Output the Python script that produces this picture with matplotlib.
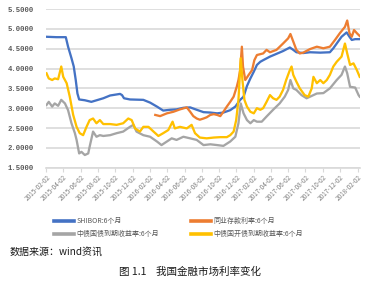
import matplotlib.pyplot as plt
import matplotlib.dates as mdates
import pandas as pd

plt.rcParams['font.family'] = ['Noto Sans CJK SC', 'DejaVu Sans']

# SHIBOR 6个月
shibor_dates = ['2015-02-02', '2015-03-09', '2015-04-11', '2015-04-19', '2015-05-01', '2015-05-09',
                '2015-05-16', '2015-05-22', '2015-05-28', '2015-06-17', '2015-07-10', '2015-08-21',
                '2015-09-14', '2015-10-19', '2015-10-26', '2015-11-02', '2015-11-23', '2016-01-09',
                '2016-02-02', '2016-02-26', '2016-03-19', '2016-04-12', '2016-05-05', '2016-05-29',
                '2016-06-22', '2016-07-15', '2016-08-08', '2016-09-01', '2016-09-25', '2016-10-17',
                '2016-11-10', '2016-11-28', '2016-12-15', '2016-12-27', '2017-01-08', '2017-01-20',
                '2017-02-01', '2017-02-12', '2017-02-24', '2017-03-06', '2017-03-30', '2017-04-22',
                '2017-05-15', '2017-06-08', '2017-06-20', '2017-07-01', '2017-07-25', '2017-08-18',
                '2017-09-23', '2017-10-27', '2017-11-08', '2017-11-20', '2017-12-07', '2017-12-25',
                '2018-01-04', '2018-01-12', '2018-01-24', '2018-02-09']
shibor = [4.80, 4.79, 4.79, 4.55, 4.26, 4.05,
          3.71, 3.37, 3.22, 3.20, 3.16, 3.25,
          3.32, 3.36, 3.33, 3.25, 3.22, 3.21,
          3.14, 3.04, 2.94, 2.96, 2.97, 3.01,
          3.02, 2.96, 2.90, 2.89, 2.87, 2.89,
          2.95, 3.04, 3.21, 3.29, 3.56, 3.75,
          3.92, 4.09, 4.17, 4.21, 4.30, 4.37,
          4.44, 4.53, 4.47, 4.41, 4.39, 4.41,
          4.40, 4.41, 4.51, 4.63, 4.80, 4.91,
          4.80, 4.72, 4.74, 4.74]

# 同业存款利率 6个月
deposit_dates = ['2016-02-20', '2016-03-08', '2016-04-01', '2016-04-24', '2016-05-17', '2016-06-10',
                 '2016-06-22', '2016-07-03', '2016-07-15', '2016-07-26', '2016-08-08', '2016-08-19',
                 '2016-09-01', '2016-09-13', '2016-09-25', '2016-10-06', '2016-10-17', '2016-10-29',
                 '2016-11-10', '2016-11-22', '2016-12-03', '2016-12-09', '2016-12-15', '2016-12-21',
                 '2016-12-25', '2017-01-02', '2017-01-14', '2017-01-26', '2017-02-03', '2017-02-12',
                 '2017-03-06', '2017-03-18', '2017-03-30', '2017-04-22', '2017-05-15', '2017-06-02',
                 '2017-06-10', '2017-06-20', '2017-07-01', '2017-07-13', '2017-07-25', '2017-08-18',
                 '2017-09-11', '2017-10-04', '2017-10-27', '2017-11-14', '2017-12-01', '2017-12-19',
                 '2017-12-27', '2018-01-04', '2018-01-12', '2018-01-20', '2018-01-30', '2018-02-09']
deposit = [2.83, 2.80, 2.87, 2.91, 2.97, 3.02,
           2.91, 2.80, 2.74, 2.71, 2.74, 2.77,
           2.83, 2.85, 2.83, 2.80, 2.91, 3.04,
           3.16, 3.29, 3.54, 3.71, 3.96, 4.55,
           4.05, 3.71, 3.84, 3.96, 4.21, 4.34,
           4.38, 4.47, 4.41, 4.47, 4.63, 4.76,
           4.87, 4.68, 4.47, 4.38, 4.40, 4.49,
           4.55, 4.51, 4.55, 4.72, 4.89, 5.05,
           5.21, 4.89, 4.80, 4.97, 4.89, 4.82]

# 中债国债到期收益率 6个月
govt_dates = ['2015-02-02', '2015-02-10', '2015-02-22', '2015-03-03', '2015-03-15', '2015-03-26',
              '2015-04-08', '2015-04-19', '2015-05-01', '2015-05-13', '2015-05-19', '2015-05-28',
              '2015-06-05', '2015-06-17', '2015-06-29', '2015-07-04', '2015-07-16', '2015-07-28',
              '2015-08-09', '2015-08-21', '2015-09-14', '2015-10-07', '2015-10-30', '2015-11-23',
              '2015-12-05', '2015-12-16', '2016-01-09', '2016-02-02', '2016-02-26', '2016-03-13',
              '2016-04-01', '2016-04-18', '2016-05-05', '2016-05-29', '2016-06-22', '2016-07-15',
              '2016-08-08', '2016-09-01', '2016-09-25', '2016-10-17', '2016-11-10', '2016-11-28',
              '2016-12-09', '2016-12-17', '2016-12-27', '2017-01-08', '2017-01-20', '2017-02-01',
              '2017-02-12', '2017-03-01', '2017-03-18', '2017-04-10', '2017-05-03', '2017-05-21',
              '2017-06-02', '2017-06-10', '2017-06-20', '2017-07-01', '2017-07-19', '2017-08-06',
              '2017-08-18', '2017-09-11', '2017-10-04', '2017-10-27', '2017-11-20', '2017-12-07',
              '2017-12-19', '2017-12-27', '2018-01-06', '2018-01-24', '2018-02-05', '2018-02-09']
govt = [3.08, 3.16, 3.04, 3.12, 3.06, 3.21,
        3.12, 2.95, 2.62, 2.37, 2.20, 1.86,
        1.90, 1.82, 1.86, 2.03, 2.41, 2.28,
        2.32, 2.30, 2.32, 2.37, 2.41, 2.53,
        2.58, 2.41, 2.32, 2.28, 2.16, 2.07,
        2.16, 2.24, 2.20, 2.28, 2.24, 2.20,
        2.07, 2.09, 2.07, 2.05, 2.16, 2.28,
        2.62, 3.12, 2.87, 2.70, 2.62, 2.70,
        2.66, 2.66, 2.79, 2.96, 3.12, 3.29,
        3.46, 3.71, 3.50, 3.46, 3.33, 3.25,
        3.29, 3.37, 3.38, 3.50, 3.71, 3.84,
        4.05, 3.88, 3.54, 3.52, 3.33, 3.29]

# 中债国开债到期收益率 6个月
cdb_dates = ['2015-02-02', '2015-02-10', '2015-02-22', '2015-03-03', '2015-03-15', '2015-03-26',
             '2015-04-02', '2015-04-14', '2015-04-25', '2015-05-07', '2015-05-19', '2015-05-30',
             '2015-06-11', '2015-06-23', '2015-07-04', '2015-07-16', '2015-07-28', '2015-08-09',
             '2015-08-21', '2015-09-14', '2015-10-07', '2015-10-30', '2015-11-17', '2015-11-29',
             '2015-12-11', '2015-12-28', '2016-01-09', '2016-01-27', '2016-02-14', '2016-03-02',
             '2016-03-19', '2016-04-06', '2016-04-21', '2016-04-29', '2016-05-17', '2016-06-10',
             '2016-06-27', '2016-07-09', '2016-07-26', '2016-08-19', '2016-09-13', '2016-10-06',
             '2016-10-29', '2016-11-10', '2016-11-22', '2016-12-01', '2016-12-09', '2016-12-17',
             '2016-12-23', '2016-12-30', '2017-01-08', '2017-01-20', '2017-02-01', '2017-02-12',
             '2017-02-24', '2017-03-06', '2017-03-18', '2017-03-30', '2017-04-10', '2017-04-22',
             '2017-05-03', '2017-05-15', '2017-05-26', '2017-06-08', '2017-06-14', '2017-06-20',
             '2017-07-01', '2017-07-13', '2017-07-30', '2017-08-12', '2017-08-24', '2017-08-30',
             '2017-09-11', '2017-09-23', '2017-10-04', '2017-10-16', '2017-10-27', '2017-11-08',
             '2017-11-20', '2017-12-07', '2017-12-19', '2017-12-27', '2018-01-06', '2018-01-18',
             '2018-01-30', '2018-02-09']
cdb = [3.88, 3.75, 3.71, 3.75, 3.73, 4.05,
       3.79, 3.63, 3.29, 2.83, 2.53, 2.37,
       2.32, 2.53, 2.70, 2.74, 2.62, 2.70,
       2.60, 2.60, 2.58, 2.62, 2.74, 2.70,
       2.49, 2.41, 2.53, 2.53, 2.41, 2.30,
       2.37, 2.45, 2.66, 2.49, 2.53, 2.49,
       2.58, 2.37, 2.26, 2.24, 2.26, 2.27,
       2.27, 2.32, 2.41, 2.70, 3.21, 4.26,
       3.71, 3.21, 3.04, 2.91, 2.87, 3.00,
       2.96, 3.00, 3.16, 3.33, 3.25, 3.21,
       3.29, 3.46, 3.71, 3.96, 4.05, 3.84,
       3.67, 3.50, 3.33, 3.29, 3.50, 3.79,
       3.63, 3.71, 3.63, 3.71, 3.84, 4.05,
       4.17, 4.30, 4.63, 4.38, 4.09, 4.13,
       3.96, 3.79]

yticks = [1.5, 2.0, 2.5, 3.0, 3.5, 4.0, 4.5, 5.0, 5.5]
labels = ['SHIBOR:6个月', '同业存款利率:6个月', '中债国债到期收益率:6个月', '中债国开债到期收益率:6个月']
colors = ['#4472C4', '#ED7D31', '#A5A5A5', '#FFC000']

fig = plt.figure(figsize=(3.82, 2.84), dpi=100)
ax = fig.add_axes([0.1217, 0.4095, 0.8207, 0.5588])

series = [(shibor_dates, shibor), (deposit_dates, deposit), (govt_dates, govt), (cdb_dates, cdb)]
lines = []
for (d, v), lab, c in zip(series, labels, colors):
    ln, = ax.plot(pd.to_datetime(d), v, color=c, lw=1.65, label=lab)
    lines.append(ln)

ax.set_xlim(pd.Timestamp('2015-02-02'), pd.Timestamp('2018-02-10'))
ax.set_ylim(1.5, 5.5)
ax.set_yticks(yticks)
ax.yaxis.set_major_formatter(plt.FormatStrFormatter('%.4f'))
ax.grid(axis='y', color='#D9D9D9', lw=1.2)
ax.set_axisbelow(True)
for s in ['top', 'right', 'left']:
    ax.spines[s].set_visible(False)
ax.spines['bottom'].set_color('#D9D9D9')
ax.spines['bottom'].set_linewidth(1.2)

ax.xaxis.set_major_locator(mdates.MonthLocator(bymonth=[2, 4, 6, 8, 10, 12], bymonthday=2))
ax.xaxis.set_major_formatter(mdates.DateFormatter('%Y-%m-%d'))
ax.tick_params(axis='x', length=3, width=0.8, color='#D9D9D9', labelsize=4.6, labelcolor='#7F7F7F', pad=1)
ax.tick_params(axis='y', length=0, labelsize=5.2, labelcolor='#595959', pad=9)
for lbl in ax.get_xticklabels():
    lbl.set_rotation(45)
    lbl.set_ha('right')
    lbl.set_rotation_mode('anchor')
for lbl in ax.get_yticklabels():
    lbl.set_family('Liberation Mono')
    lbl.set_fontweight('bold')

leg_kw = dict(loc='upper left', frameon=False, fontsize=5, handlelength=2.9, handletextpad=0.3,
              borderpad=0, borderaxespad=0, labelspacing=0.75, labelcolor='#595959')
leg1 = fig.legend([lines[0], lines[2]], [labels[0], labels[2]], bbox_to_anchor=(54 / 382, 1 - 217 / 284), **leg_kw)
leg2 = fig.legend([lines[1], lines[3]], [labels[1], labels[3]], bbox_to_anchor=(191 / 382, 1 - 217 / 284), **leg_kw)
for lg in (leg1, leg2):
    for h in lg.legend_handles:
        h.set_linewidth(2.6)

fig.text(10 / 382, 1 - 252 / 284, '数据来源：wind资讯', fontsize=7.2, va='center', ha='left', color='#1a1a1a')
fig.text(190 / 382, 1 - 272 / 284, '图 1.1    我国金融市场利率变化', fontsize=7.6, va='center', ha='center', color='#1a1a1a')

fig.savefig('out.png', dpi=100)
